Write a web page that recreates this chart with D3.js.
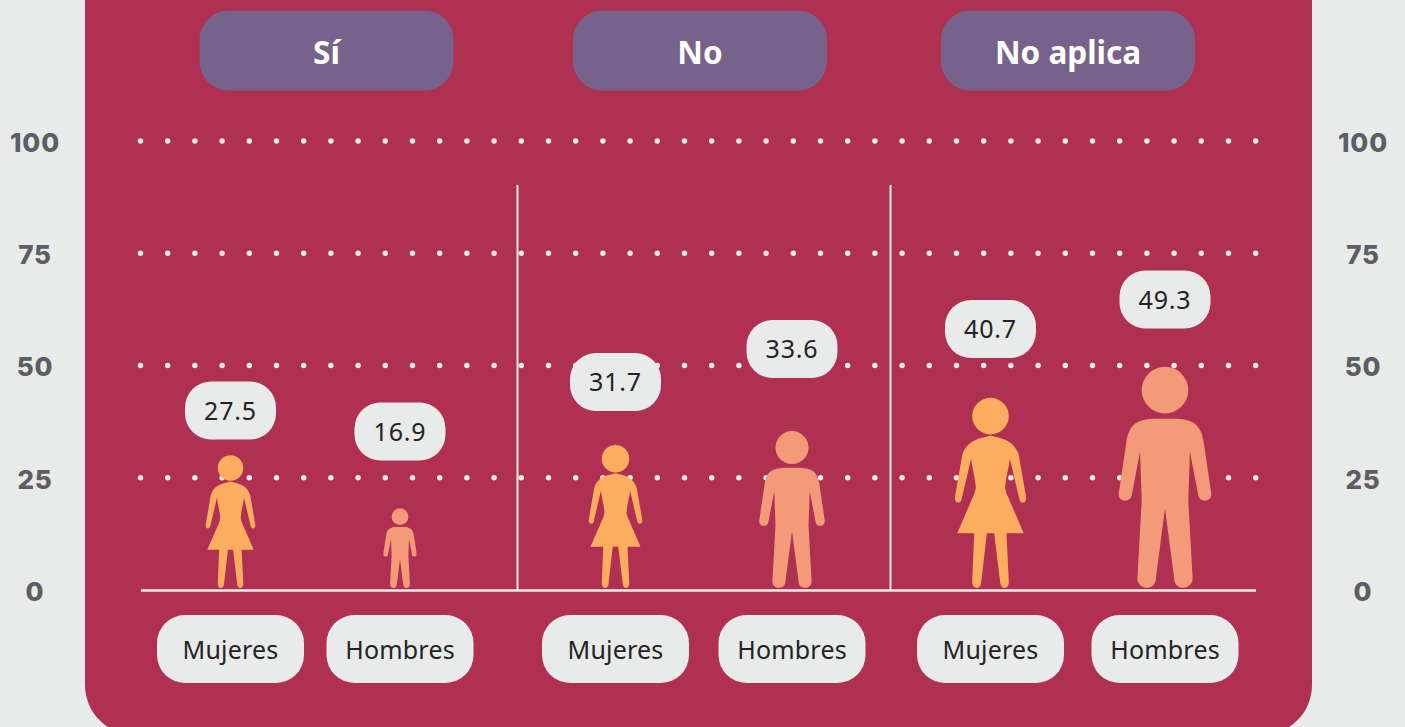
<!DOCTYPE html>
<html lang="es">
<head>
<meta charset="utf-8">
<script src="https://cdn.jsdelivr.net/npm/d3@7"></script>
<style>
html,body{margin:0;padding:0;background:#E9EBEA;overflow:hidden}
svg{display:block}
</style>
</head>
<body>
<div id="chart"></div>
<script>
// --- data ---
const groups = ["Sí", "No", "No aplica"];
const sexes = ["Mujeres", "Hombres"];
const mujeres = [27.5, 31.7, 40.7];
const hombres = [16.9, 33.6, 49.3];
// height of each pictogram as read against the axis (drawn a little above its printed value)
const mujeresFigura = [30.0, 32.3, 42.8];
const hombresFigura = [18.2, 35.4, 49.7];
const yTicks = [0, 25, 50, 75, 100];

// --- layout ---
const W = 1405, H = 727;
const svg = d3.select("#chart").append("svg").attr("width", W).attr("height", H);
const y = d3.scaleLinear().domain([0, 100]).range([590, 141]);
const headerX = d3.scaleOrdinal().domain(groups).range([326.5, 700, 1068]);
const colX = d3.scaleOrdinal()
  .domain(["Sí|Mujeres","Sí|Hombres","No|Mujeres","No|Hombres","No aplica|Mujeres","No aplica|Hombres"])
  .range([230.5, 400, 615.5, 792, 990.5, 1165]);
const pillY = d3.scaleOrdinal()
  .domain(colX.domain())
  .range([410.5, 431.5, 382, 349, 329, 299.5]);
const COL = {bg:"#E9EBEA", panel:"#B03052", head:"#76628A", mujer:"#FDAD5F", hombre:"#F39B78", ink:"#232326", tick:"#5B5E63"};
const SANS = "'Noto Sans', sans-serif";

// --- pictograms: outlines on a drawing grid, x centred on 0 ---
const womanH = 572, manH = 665;
const womanD = "M0 113 m-55 55 a55 55 0 1 0 110 0 a55 55 0 1 0 -110 0 Z " +
 "M0 226 C-25 234 -70 236 -85 285 L-107 412 C-110 430 -90 434 -87 418 " +
 "L-58 295 C-56 325 -46 350 -44 385 L-48 400 L-100 520 L-49 520 L-55 665 C-56 690 -29 692 -28 668 L-11 520 L11 520 L29 668 C31 692 56 690 55 665 L48 520 " +
 "L100 520 L48 400 L44 385 C46 350 56 325 58 295 L87 418 C90 434 110 430 107 412 L85 285 C70 236 25 234 0 226 Z";
const manD = "M0 20 m-70 70 a70 70 0 1 0 140 0 a70 70 0 1 0 -140 0 Z " +
 "M0 176 L-25 176 C-80 176 -108 190 -116 245 L-139 400 C-143 426 -104 430 -100 405 L-75 275 " +
 "L-70 420 L-83 655 C-84 692 -31 694 -28 660 L0 445 L28 660 C31 694 84 692 83 655 L70 420 " +
 "L75 275 L100 405 C104 430 143 426 139 400 L116 245 C108 190 80 176 25 176 Z";

// --- panel ---
const px0 = 85, px1 = 1312, pBot = 735, pr = 50;
svg.append("path").attr("fill", COL.panel)
  .attr("d", `M${px0} -10 H${px1} V${pBot-pr} A${pr} ${pr} 0 0 1 ${px1-pr} ${pBot} H${px0+pr} A${pr} ${pr} 0 0 1 ${px0} ${pBot-pr} Z`);

// --- gridlines (dotted) ---
svg.append("g").selectAll("line").data(yTicks.filter(d => d > 0)).join("line")
  .attr("x1", 140.5).attr("x2", 1260).attr("y1", d => y(d)).attr("y2", d => y(d))
  .attr("stroke", COL.bg).attr("stroke-width", 5.5).attr("stroke-linecap", "round")
  .attr("stroke-dasharray", "0 27.2");

// --- axes on both sides ---
function styleAxis(g) {
  g.select(".domain").remove();
  g.selectAll("line").remove();
  g.selectAll("text").attr("x", 0).attr("dy", "0.36em")
    .attr("text-anchor", "middle").attr("fill", COL.tick)
    .style("font-family", "Inter, sans-serif").style("font-weight", 800).style("font-size", "26px").style("letter-spacing", "0.8px");
}
svg.append("g").attr("transform", "translate(35,1)").call(d3.axisLeft(y).tickValues(yTicks).tickFormat(d3.format("d"))).call(styleAxis);
svg.append("g").attr("transform", "translate(1363,1)").call(d3.axisRight(y).tickValues(yTicks).tickFormat(d3.format("d"))).call(styleAxis);

// --- baseline and separators ---
svg.append("line").attr("x1", 141).attr("x2", 1256).attr("y1", y(0)+0.5).attr("y2", y(0)+0.5)
  .attr("stroke", COL.bg).attr("stroke-width", 2.5);
svg.append("g").selectAll("line").data([517.5, 890.5]).join("line")
  .attr("x1", d => d).attr("x2", d => d).attr("y1", 185).attr("y2", y(0))
  .attr("stroke", COL.bg).attr("stroke-width", 2);

// --- header pills ---
const hg = svg.append("g").selectAll("g").data(groups).join("g")
  .attr("transform", d => `translate(${headerX(d)},50.5)`);
hg.append("rect").attr("x", -127).attr("y", -40).attr("width", 254).attr("height", 80).attr("rx", 29)
  .attr("fill", COL.head);
hg.append("text").text(d => d).attr("text-anchor", "middle").attr("y", 1.5).attr("dy", "0.38em")
  .attr("fill", "#fff").style("font-family", SANS).style("font-weight", 700).style("font-size", "31.5px");

// --- rows ---
const rows = [];
groups.forEach((g, i) => {
  rows.push({g, sex: sexes[0], value: mujeres[i], fig: mujeresFigura[i]});
  rows.push({g, sex: sexes[1], value: hombres[i], fig: hombresFigura[i]});
});
const key = d => d.g + "|" + d.sex;

// pictograms
svg.append("g").selectAll("path").data(rows).join("path")
  .attr("d", d => d.sex === "Mujeres" ? womanD : manD)
  .attr("fill", d => d.sex === "Mujeres" ? COL.mujer : COL.hombre)
  .attr("transform", d => {
    const woman = d.sex === "Mujeres";
    const gridTop = woman ? 113 : 20, gridH = woman ? womanH : manH;
    const top = y(d.fig), bottom = y(0) - 2;
    const k = (bottom - top) / gridH;
    return `translate(${colX(key(d))},${top - gridTop * k}) scale(${k})`;
  });

// value pills
const vg = svg.append("g").selectAll("g").data(rows).join("g")
  .attr("transform", d => `translate(${colX(key(d))},${pillY(key(d))})`);
vg.append("rect").attr("x", -45.5).attr("y", -29).attr("width", 91).attr("height", 58).attr("rx", 26)
  .attr("fill", COL.bg);
vg.append("text").text(d => d3.format(".1f")(d.value)).attr("text-anchor", "middle").attr("dy", "0.36em")
  .attr("fill", COL.ink).style("font-family", SANS).style("font-size", "25px").style("letter-spacing", "0.8px");

// category pills
const cg = svg.append("g").selectAll("g").data(rows).join("g")
  .attr("transform", d => `translate(${colX(key(d))},649)`);
cg.append("rect").attr("x", -73.5).attr("y", -34).attr("width", 147).attr("height", 68).attr("rx", 28)
  .attr("fill", COL.bg);
cg.append("text").text(d => d.sex).attr("text-anchor", "middle").attr("y", 1).attr("dy", "0.36em")
  .attr("fill", COL.ink).style("font-family", SANS).style("font-size", "25px").style("letter-spacing", "0.2px");
</script>
</body>
</html>
